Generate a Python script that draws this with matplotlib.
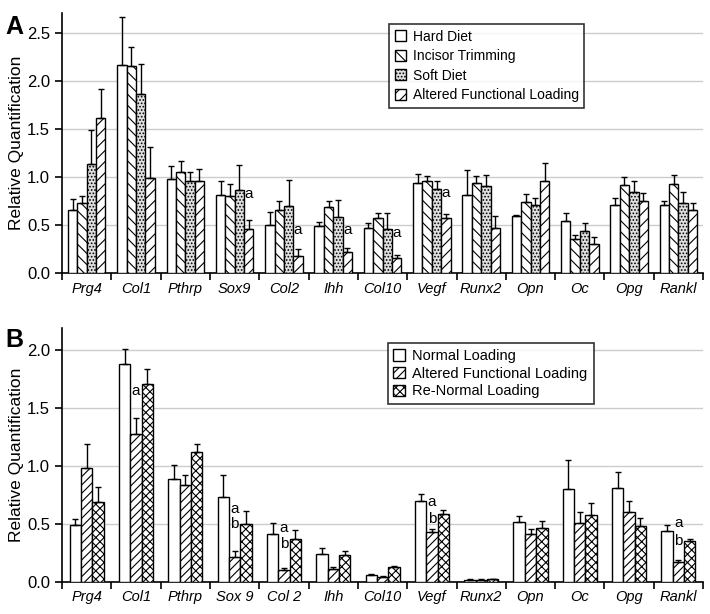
import matplotlib.pyplot as plt
import numpy as np

plt.rcParams['font.family'] = ['Liberation Sans', 'DejaVu Sans']
plt.rcParams['hatch.linewidth'] = 0.8

genes_a = ['Prg4', 'Col1', 'Pthrp', 'Sox9', 'Col2', 'Ihh', 'Col10', 'Vegf', 'Runx2', 'Opn', 'Oc', 'Opg', 'Rankl']
genes_b = ['Prg4', 'Col1', 'Pthrp', 'Sox 9', 'Col 2', 'Ihh', 'Col10', 'Vegf', 'Runx2', 'Opn', 'Oc', 'Opg', 'Rankl']

# panel A
hard = [0.66, 2.17, 0.98, 0.81, 0.50, 0.49, 0.47, 0.94, 0.81, 0.60, 0.54, 0.71, 0.71]
hard_err = [0.11, 0.50, 0.14, 0.15, 0.14, 0.04, 0.05, 0.09, 0.26, 0.01, 0.09, 0.07, 0.04]
incisor = [0.73, 2.16, 1.05, 0.80, 0.66, 0.69, 0.58, 0.96, 0.94, 0.74, 0.36, 0.92, 0.93]
incisor_err = [0.07, 0.20, 0.12, 0.13, 0.09, 0.06, 0.05, 0.05, 0.07, 0.08, 0.04, 0.08, 0.09]
soft = [1.14, 1.87, 0.96, 0.87, 0.70, 0.59, 0.46, 0.88, 0.91, 0.71, 0.44, 0.85, 0.73]
soft_err = [0.35, 0.31, 0.09, 0.26, 0.27, 0.17, 0.17, 0.08, 0.11, 0.07, 0.08, 0.11, 0.12]
altered_a = [1.62, 0.99, 0.96, 0.46, 0.18, 0.22, 0.16, 0.58, 0.47, 0.96, 0.30, 0.75, 0.66]
altered_a_err = [0.30, 0.32, 0.12, 0.09, 0.07, 0.04, 0.03, 0.04, 0.13, 0.19, 0.08, 0.08, 0.07]
marks_a = [(3, 0.82, 'a'), (4, 0.45, 'a'), (5, 0.45, 'a'), (6, 0.42, 'a'), (7, 0.83, 'a')]

# panel B
normal = [0.49, 1.88, 0.89, 0.73, 0.41, 0.24, 0.06, 0.70, 0.02, 0.52, 0.80, 0.81, 0.44]
normal_err = [0.05, 0.13, 0.12, 0.19, 0.10, 0.05, 0.01, 0.06, 0.005, 0.05, 0.25, 0.14, 0.05]
altered_b = [0.98, 1.28, 0.84, 0.22, 0.10, 0.11, 0.04, 0.43, 0.02, 0.41, 0.51, 0.60, 0.17]
altered_b_err = [0.21, 0.13, 0.08, 0.05, 0.02, 0.02, 0.01, 0.03, 0.005, 0.05, 0.09, 0.10, 0.02]
renormal = [0.69, 1.71, 1.12, 0.50, 0.37, 0.23, 0.13, 0.59, 0.025, 0.47, 0.58, 0.48, 0.35]
renormal_err = [0.13, 0.13, 0.07, 0.11, 0.08, 0.04, 0.01, 0.03, 0.005, 0.06, 0.10, 0.07, 0.02]
marks_b = [(1, 1.65, 'a'), (3, 0.63, 'a'), (3, 0.50, 'b'), (4, 0.47, 'a'), (4, 0.33, 'b'),
           (7, 0.69, 'a'), (7, 0.54, 'b'), (12, 0.51, 'a'), (12, 0.35, 'b')]


def draw_panel(ax, series, labels, width, marks, mark_idx, ymax, yticks):
    x = np.arange(len(labels))
    n = len(series)
    for i, (vals, errs, name, hatch, fc) in enumerate(series):
        pos = x + (i - (n - 1) / 2) * width
        ax.bar(pos, vals, width, color=fc, edgecolor='black', hatch=hatch, lw=1, label=name, zorder=3)
        ax.errorbar(pos, vals, yerr=[np.zeros(len(vals)), errs], fmt='none', ecolor='black',
                    elinewidth=1, capsize=2.5, capthick=1, zorder=4)
    for k, y, s in marks:
        ax.text(k + (mark_idx - (n - 1) / 2) * width, y, s, fontsize=11, ha='center', va='center', zorder=5)
    ax.set_xlim(-0.5, len(labels) - 0.5)
    ax.set_ylim(0, ymax)
    ax.set_yticks(yticks)
    ax.set_yticklabels(['%.1f' % t for t in yticks], fontsize=12)
    ax.set_xticks(x)
    ax.set_xticklabels(labels, style='italic', fontsize=10.5)
    ax.set_xticks(np.arange(len(labels) + 1) - 0.5, minor=True)
    ax.tick_params(axis='x', which='major', length=0, pad=6)
    ax.tick_params(axis='x', which='minor', length=5, width=1.2)
    ax.tick_params(axis='y', length=5, width=1.2)
    ax.yaxis.grid(True, color='#cccccc', lw=1, zorder=0)
    ax.set_axisbelow(True)
    for s in ['top', 'right']:
        ax.spines[s].set_visible(False)
    for s in ['left', 'bottom']:
        ax.spines[s].set_linewidth(1.2)
    ax.set_ylabel('Relative Quantification', fontsize=12.5, labelpad=2)


fig = plt.figure(figsize=(7.1, 6.14), dpi=100)
ax1 = fig.add_axes([0.0873, 0.555, 0.903, 0.424])
ax2 = fig.add_axes([0.0873, 0.052, 0.903, 0.414])

series_a = [(hard, hard_err, 'Hard Diet', '', 'white'),
            (incisor, incisor_err, 'Incisor Trimming', '\\\\\\', 'white'),
            (soft, soft_err, 'Soft Diet', '.....', '#e0e0e0'),
            (altered_a, altered_a_err, 'Altered Functional Loading', '///', 'white')]
draw_panel(ax1, series_a, genes_a, 0.19, marks_a, 3, 2.71, [0, 0.5, 1.0, 1.5, 2.0, 2.5])

series_b = [(normal, normal_err, 'Normal Loading', '', 'white'),
            (altered_b, altered_b_err, 'Altered Functional Loading', '////', 'white'),
            (renormal, renormal_err, 'Re-Normal Loading', 'xxxx', 'white')]
draw_panel(ax2, series_b, genes_b, 0.23, marks_b, 1, 2.19, [0, 0.5, 1.0, 1.5, 2.0])

for ax, anchor, fs, sp in [(ax1, (0.548, 0.961), 10, 0.4), (ax2, (0.546, 0.441), 10.5, 0.25)]:
    leg = ax.legend(loc='upper left', bbox_to_anchor=anchor, bbox_transform=fig.transFigure,
                    borderaxespad=0, fontsize=fs, frameon=True, fancybox=False,
                    handlelength=0.8, handleheight=0.8, handletextpad=0.5,
                    labelspacing=sp, borderpad=0.4)
    leg.get_frame().set_edgecolor('black')
    leg.get_frame().set_linewidth(1.2)

fig.text(0.008, 0.975, 'A', fontsize=18, fontweight='bold', va='top')
fig.text(0.008, 0.465, 'B', fontsize=18, fontweight='bold', va='top')

fig.savefig('out.png', dpi=100)
